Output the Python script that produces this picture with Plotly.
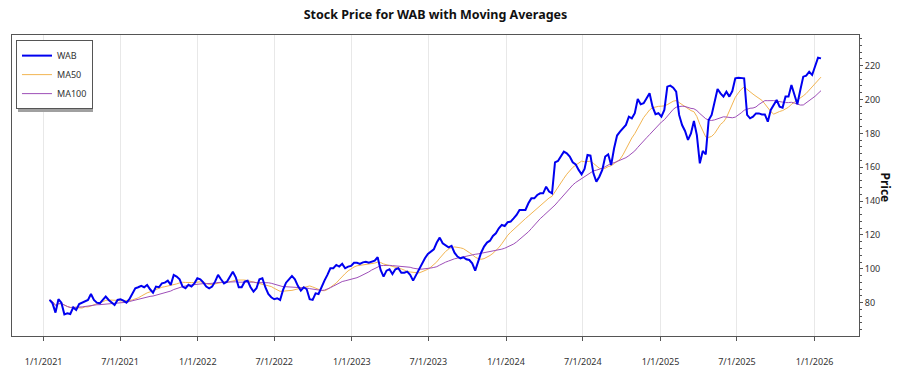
import pandas as pd
import plotly.graph_objects as go

# Weekly closing prices (2021-01-15 .. 2026-01-16)
price_2021 = [81.6, 79.6, 74.1, 82.0, 80.0, 73.1, 73.7, 73.3, 77.2, 75.7, 79.2, 80.0, 81.2, 81.6,
              85.1, 81.6, 80.0, 79.6, 81.6, 83.6, 81.6, 80.0, 78.6, 81.6, 82.0, 81.2, 80.0, 82.0,
              85.5, 88.5, 89.1, 89.9, 89.1, 90.5, 87.9, 85.9, 89.5, 89.1, 91.4, 91.8, 93.0, 90.5,
              96.4, 95.4, 93.8, 89.5, 88.5, 90.5, 89.5, 91.4, 94.4]
price_2022 = [93.8, 92.0, 89.5, 88.5, 89.5, 92.4, 96.4, 93.8, 91.4, 92.4, 95.8, 98.3, 95.0, 89.1,
              89.1, 92.4, 93.0, 89.1, 86.5, 88.5, 93.8, 94.4, 89.1, 85.1, 83.2, 82.0, 82.6, 81.6,
              87.5, 91.8, 93.8, 95.8, 93.8, 89.9, 87.1, 89.1, 87.9, 82.0, 81.6, 85.5, 85.1, 89.5,
              93.0, 96.4, 100.3, 100.3, 102.3, 101.3, 102.9, 100.3, 101.3, 101.7]
price_2023 = [103.6, 103.6, 102.9, 103.8, 104.2, 103.6, 104.2, 104.8, 106.8, 99.3, 95.4, 98.9, 99.7,
              96.9, 99.7, 100.3, 97.7, 97.7, 98.3, 96.4, 93.0, 96.4, 99.3, 103.6, 106.2, 108.8, 110.1,
              111.5, 115.5, 118.4, 115.1, 114.1, 112.7, 113.5, 109.5, 107.2, 106.2, 106.8, 105.6,
              105.2, 103.2, 98.9, 104.2, 109.5, 113.1, 115.5, 116.6, 119.4, 121.0, 123.9, 125.9, 125.3]
price_2024 = [127.5, 127.9, 129.8, 131.8, 134.8, 134.8, 134.8, 138.7, 141.6, 141.6, 143.6, 144.6,
              144.6, 148.5, 145.6, 144.6, 162.9, 163.7, 166.8, 169.2, 168.2, 166.3, 162.9, 161.7,
              158.4, 155.8, 159.0, 167.2, 166.8, 156.4, 151.5, 154.4, 158.4, 166.3, 167.6, 161.3,
              171.2, 178.7, 181.0, 183.0, 185.0, 189.9, 188.9, 191.9, 200.3, 197.2, 197.8, 200.7,
              203.7, 195.8, 191.3, 191.9]
price_2025 = [189.9, 193.8, 207.6, 208.2, 207.0, 204.6, 190.9, 184.9, 181.4, 176.1, 180.0, 187.3,
              179.0, 162.3, 169.6, 167.6, 187.9, 190.9, 198.7, 206.2, 203.6, 201.7, 204.6, 201.7,
              205.0, 212.5, 212.9, 212.9, 212.5, 190.9, 188.9, 189.9, 191.8, 191.8, 191.2, 191.2,
              186.9, 193.8, 197.2, 199.7, 195.8, 195.2, 201.7, 201.7, 208.6, 202.7, 197.2, 205.6,
              213.5, 214.1, 216.4, 214.5, 219.4, 224.7, 224.3]

prices = price_2021 + price_2022 + price_2023 + price_2024 + price_2025
dates = pd.date_range("2021-01-15", periods=len(prices), freq="7D")
s = pd.Series(prices, index=dates)
ma50 = s.rolling(10, min_periods=1).mean()    # 50 trading days ~ 10 weeks
ma100 = s.rolling(20, min_periods=1).mean()   # 100 trading days ~ 20 weeks

tick_vals = ["2021-01-01", "2021-07-01", "2022-01-01", "2022-07-01", "2023-01-01", "2023-07-01",
             "2024-01-01", "2024-07-01", "2025-01-01", "2025-07-01", "2026-01-01"]
tick_text = ["1/1/2021", "7/1/2021", "1/1/2022", "7/1/2022", "1/1/2023", "7/1/2023",
             "1/1/2024", "7/1/2024", "1/1/2025", "7/1/2025", "1/1/2026"]

FONT = "Noto Sans"

fig = go.Figure()
fig.add_trace(go.Scatter(x=dates, y=ma50, name="MA50", mode="lines", legendrank=2,
                         line=dict(color="#F2B552", width=1)))
fig.add_trace(go.Scatter(x=dates, y=ma100, name="MA100", mode="lines", legendrank=3,
                         line=dict(color="#9E4FB8", width=1)))
fig.add_trace(go.Scatter(x=dates, y=s.values, name="WAB", mode="lines", legendrank=1,
                         line=dict(color="#0000F0", width=2)))

fig.update_layout(
    width=900, height=375,
    margin=dict(l=12, r=41, t=35, b=39, autoexpand=False),
    paper_bgcolor="white", plot_bgcolor="white",
    font=dict(family=FONT, size=9, color="#333333"),
    title=dict(text="<b>Stock Price for WAB with Moving Averages</b>", x=0.4839, xanchor="center",
               y=0.96, yanchor="middle", font=dict(family=FONT, size=12.5, color="#111111")),
    showlegend=True,
    legend=dict(x=0.0047, y=0.983, xanchor="left", yanchor="top", bgcolor="white",
                bordercolor="#555555", borderwidth=1, traceorder="normal",
                font=dict(family=FONT, size=9, color="#333333"), tracegroupgap=0),
    xaxis=dict(range=["2020-10-18", "2026-04-16"], tickmode="array", tickvals=tick_vals,
               ticktext=tick_text, showgrid=True, gridcolor="#E8E8E8", gridwidth=1,
               showline=True, linecolor="#555555", linewidth=1, mirror=True, automargin=False,
               ticks="outside", ticklen=4, tickcolor="#555555", ticklabelstandoff=13,
               zeroline=False, tickfont=dict(size=9, color="#333333")),
    yaxis=dict(side="right", range=[60.3, 238.1], dtick=20, tick0=0, showgrid=False,
               showline=True, linecolor="#555555", linewidth=1, mirror=True, automargin=False,
               ticks="outside", ticklen=3, tickcolor="#555555", zeroline=False,
               minor=dict(dtick=4, ticks="outside", ticklen=2, tickcolor="#555555", showgrid=False),
               tickfont=dict(size=9, color="#333333")),
    shapes=[dict(type="rect", xref="paper", yref="paper", xsizemode="pixel", ysizemode="pixel",
                 xanchor=0, yanchor=1, x0=6, x1=81, y0=-7, y1=-77,
                 line=dict(width=0), fillcolor="#A0A0A0", layer="above")],
    annotations=[dict(text="<b>Price</b>", xref="paper", yref="paper", x=1.0437, y=0.495,
                      xanchor="right", yanchor="middle",
                      showarrow=False, textangle=90, font=dict(family=FONT, size=12, color="#111111"))],
)

fig.write_html("out.html", config={"displayModeBar": False},
               post_script="document.body.style.margin='0';")
